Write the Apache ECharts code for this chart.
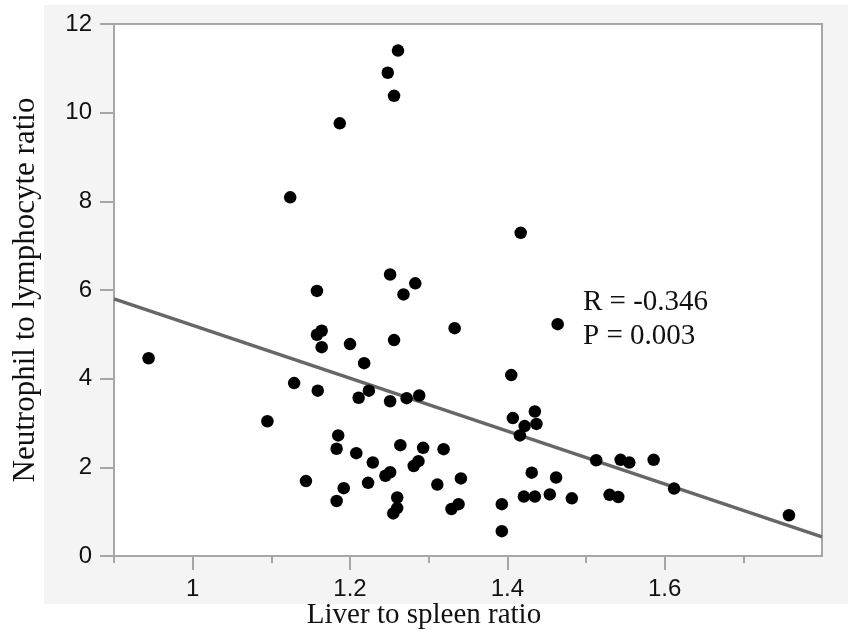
<!DOCTYPE html>
<html>
<head>
<meta charset="utf-8">
<script src="https://cdn.jsdelivr.net/npm/echarts@6/dist/echarts.min.js"></script>
<style>
  html, body { margin: 0; padding: 0; background: #fff; }
  #chart { width: 848px; height: 639px; }
</style>
</head>
<body>
<div id="chart"></div>
<script>
// liver to spleen ratio (x) vs neutrophil to lymphocyte ratio (y)
var liverSpleen = [
    0.944, 1.095, 1.124, 1.129, 1.144, 1.158, 1.158, 1.164, 1.164, 1.159,
    1.185, 1.183, 1.192, 1.183, 1.187, 1.200, 1.218, 1.211, 1.224, 1.208,
    1.229, 1.223, 1.248, 1.256, 1.261, 1.251, 1.283, 1.268, 1.256, 1.333,
    1.464, 1.417, 1.251, 1.272, 1.288, 1.405, 1.407, 1.435, 1.437, 1.422,
    1.416, 1.264, 1.293, 1.319, 1.287, 1.281, 1.251, 1.245, 1.260, 1.260,
    1.255, 1.311, 1.341, 1.338, 1.329, 1.393, 1.393, 1.431, 1.462, 1.421,
    1.435, 1.454, 1.482, 1.513, 1.544, 1.555, 1.586, 1.530, 1.541, 1.612,
    1.758
];
var nlr = [
    4.46, 3.04, 8.09, 3.90, 1.69, 5.98, 4.99, 5.08, 4.71, 3.73,
    2.72, 2.42, 1.53, 1.24, 9.76, 4.78, 4.35, 3.57, 3.73, 2.32,
    2.11, 1.65, 10.90, 10.38, 11.40, 6.35, 6.15, 5.90, 4.87, 5.14,
    5.23, 7.29, 3.49, 3.56, 3.62, 4.08, 3.11, 3.26, 2.98, 2.93,
    2.72, 2.50, 2.44, 2.41, 2.14, 2.03, 1.89, 1.81, 1.32, 1.08,
    0.96, 1.61, 1.75, 1.17, 1.06, 1.17, 0.56, 1.88, 1.77, 1.34,
    1.34, 1.39, 1.30, 2.16, 2.17, 2.11, 2.17, 1.38, 1.33, 1.52,
    0.92
];
// fitted line end points
var fitX = [0.9, 1.8];
var fitY = [5.80, 0.43];

var xMajorTicks = [1, 1.2, 1.4, 1.6];
var xMinorTicks = [0.9, 1.1, 1.3, 1.5, 1.7];
var statsText = ['R = -0.346', 'P = 0.003'];

var points = liverSpleen.map(function (v, i) { return [v, nlr[i]]; });
var fitLine = fitX.map(function (v, i) { return [v, fitY[i]]; });

var axisGray = '#a6a6a6';
var sansFont = '"Liberation Sans", Arial, sans-serif';
var serifFont = '"Liberation Serif", "Times New Roman", serif';

var chart = echarts.init(document.getElementById('chart'));
var option = {
    backgroundColor: '#fff',
    animation: false,
    title: {
        text: 'Liver to spleen ratio',
        left: 'center',
        top: 601,
        padding: 0,
        textStyle: { fontFamily: serifFont, fontSize: 29, fontWeight: 'normal', color: '#111' }
    },
    graphic: [
        {
            type: 'rect', z: -10, silent: true,
            shape: { x: 44, y: 5, width: 804, height: 599 },
            style: { fill: '#f4f4f4' }
        },
        {
            type: 'text', z: 100, x: 583, y: 288,
            style: { text: statsText[0], font: '29px ' + serifFont, fill: '#111' }
        },
        {
            type: 'text', z: 100, x: 583, y: 322,
            style: { text: statsText[1], font: '29px ' + serifFont, fill: '#111' }
        }
    ],
    grid: {
        left: 114, top: 24, right: 26, bottom: 83,
        show: true,
        backgroundColor: '#fff',
        borderColor: axisGray,
        borderWidth: 2
    },
    xAxis: [
        {
            type: 'value', min: 0.9, max: 1.8,
            axisLine: { show: true, lineStyle: { color: axisGray, width: 2 } },
            axisTick: { show: true, customValues: xMajorTicks, length: 14, lineStyle: { color: axisGray, width: 2 } },
            axisLabel: { customValues: xMajorTicks, margin: 21, fontSize: 24, fontFamily: sansFont, color: '#111' },
            splitLine: { show: false }
        },
        {
            type: 'value', min: 0.9, max: 1.8, position: 'bottom',
            axisLine: { show: false },
            axisTick: { show: true, customValues: xMinorTicks, length: 7, lineStyle: { color: axisGray, width: 2 } },
            axisLabel: { show: false },
            splitLine: { show: false }
        }
    ],
    yAxis: {
        type: 'value', min: 0, max: 12, interval: 2,
        name: 'Neutrophil to lymphocyte ratio',
        nameLocation: 'middle',
        nameGap: 73,
        nameTextStyle: { fontFamily: serifFont, fontSize: 31, color: '#111' },
        axisLine: { show: true, lineStyle: { color: axisGray, width: 2 } },
        axisTick: { show: true, length: 14, lineStyle: { color: axisGray, width: 2 } },
        axisLabel: { margin: 22, fontSize: 24, fontFamily: sansFont, color: '#111' },
        splitLine: { show: false }
    },
    series: [
        {
            type: 'line',
            data: fitLine,
            showSymbol: false,
            lineStyle: { color: '#676767', width: 3.5 },
            z: 3
        },
        {
            type: 'scatter',
            data: points,
            symbolSize: 12.5,
            itemStyle: { color: '#000', opacity: 1 },
            z: 4
        }
    ]
};
chart.setOption(option);
</script>
</body>
</html>
